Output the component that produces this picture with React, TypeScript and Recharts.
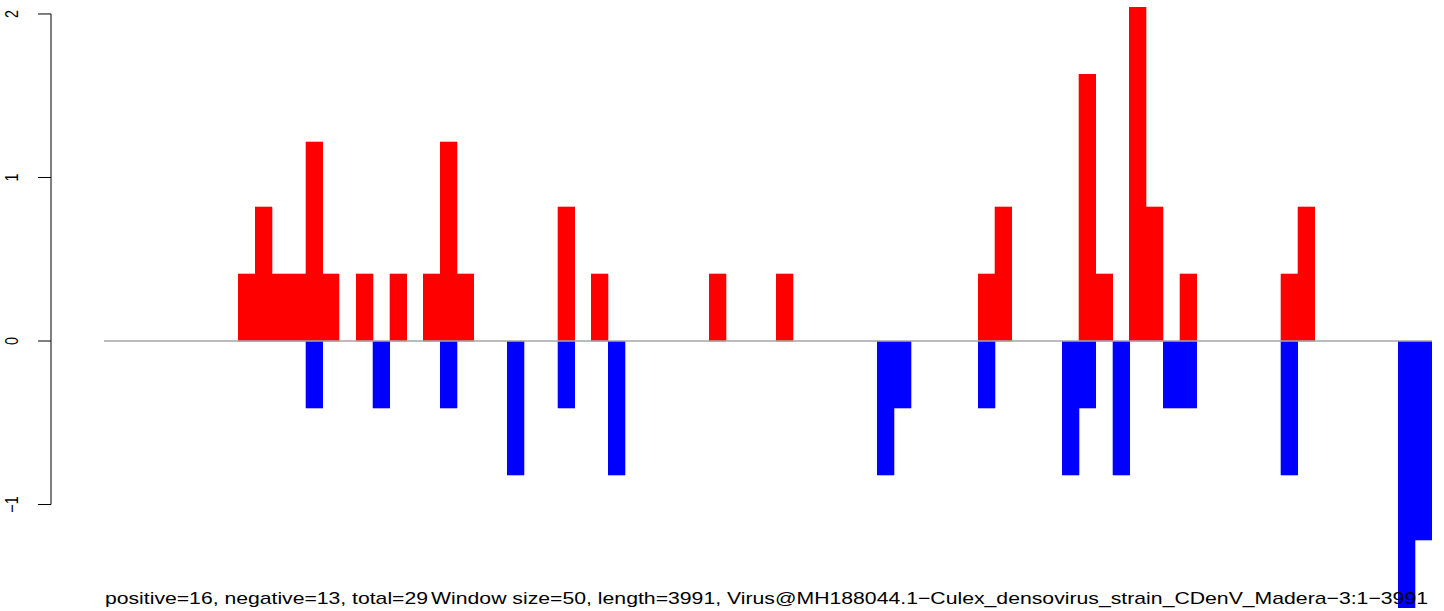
import { BarChart, Bar, XAxis, YAxis, ReferenceLine } from "recharts";

// window index (window size 50 over 3991 nt)
const windows = Array.from({ length: 79 }, (_, i) => i + 1);

const positive = [
  0, 0, 0, 0, 0, 0, 0, 0, 0.41, 0.82,
  0.41, 0.41, 1.22, 0.41, 0, 0.41, 0, 0.41, 0, 0.41,
  1.22, 0.41, 0, 0, 0, 0, 0, 0.82, 0, 0.41,
  0, 0, 0, 0, 0, 0, 0.41, 0, 0, 0,
  0.41, 0, 0, 0, 0, 0, 0, 0, 0, 0,
  0, 0, 0.41, 0.82, 0, 0, 0, 0, 1.63, 0.41,
  0, 2.04, 0.82, 0, 0.41, 0, 0, 0, 0, 0,
  0.41, 0.82, 0, 0, 0, 0, 0, 0, 0,
];

const negative = [
  0, 0, 0, 0, 0, 0, 0, 0, 0, 0,
  0, 0, -0.41, 0, 0, 0, -0.41, 0, 0, 0,
  -0.41, 0, 0, 0, -0.82, 0, 0, -0.41, 0, 0,
  -0.82, 0, 0, 0, 0, 0, 0, 0, 0, 0,
  0, 0, 0, 0, 0, 0, -0.82, -0.41, 0, 0,
  0, 0, -0.41, 0, 0, 0, 0, -0.82, -0.41, 0,
  -0.82, 0, 0, -0.41, -0.41, 0, 0, 0, 0, 0,
  -0.82, 0, 0, 0, 0, 0, 0, -1.63, -1.22,
];

const yTicks = [-1, 0, 1, 2];

const leftText = "positive=16, negative=13, total=29";
const rightText =
  "Window size=50, length=3991, Virus@MH188044.1\u2212Culex_densovirus_strain_CDenV_Madera\u22123:1\u22123991";

const data = windows.map((w, i) => ({
  mid: w - 0.5,
  pos: positive[i],
  neg: negative[i],
}));

const AXIS_X = -3.15; // left edge of the plot, where R puts the y axis
const FONT = "'Liberation Sans', Arial, Helvetica, sans-serif";

// eslint-disable-next-line @typescript-eslint/no-explicit-any
const renderTick = (props: any) => {
  const { x, y, payload } = props;
  const v = payload.value as number;
  const label = v < 0 ? `\u2212${Math.abs(v)}` : `${v}`;
  return (
    <text
      transform={`translate(${x - 18}, ${y}) rotate(-90) scale(0.8, 1)`}
      textAnchor="middle"
      fontSize={18}
      fontFamily={FONT}
      fill="#000"
    >
      {label}
    </text>
  );
};

export default function App() {
  return (
    <div style={{ position: "absolute", left: 0, top: 0, width: 1444, height: 611, background: "#fff" }}>
      <BarChart
        width={1444}
        height={611}
        data={data}
        stackOffset="sign"
        barCategoryGap={0}
        barGap={0}
        margin={{ top: 5.8, right: 12, bottom: 0.2, left: 0 }}
      >
        <XAxis type="number" dataKey="mid" domain={[AXIS_X, 79]} hide allowDataOverflow />
        <YAxis
          type="number"
          domain={[-1.65, 2.05]}
          ticks={yTicks}
          width={51}
          axisLine={false}
          tickSize={13}
          tickMargin={2}
          tickLine={{ stroke: "#000", strokeWidth: 1 }}
          tick={renderTick}
          allowDataOverflow
        />
        <ReferenceLine
          segment={[{ x: 0, y: 0 }, { x: 79, y: 0 }]}
          stroke="#a6a6a6"
          strokeWidth={1.5}
        />
        <ReferenceLine
          segment={[{ x: AXIS_X, y: -1 }, { x: AXIS_X, y: 2 }]}
          stroke="#000"
          strokeWidth={1}
          ifOverflow="visible"
        />
        <Bar
          dataKey="pos"
          stackId="s"
          fill="#ff0000"
          stroke="#ff0000"
          strokeWidth={0.3}
          shapeRendering="crispEdges"
          isAnimationActive={false}
        />
        <Bar
          dataKey="neg"
          stackId="s"
          fill="#0000ff"
          stroke="#0000ff"
          strokeWidth={0.3}
          shapeRendering="crispEdges"
          isAnimationActive={false}
        />
      </BarChart>
      <svg
        width={1444}
        height={611}
        style={{ position: "absolute", left: 0, top: 0, pointerEvents: "none" }}
      >
        <text x={105} y={604} fontSize={17} fontFamily={FONT} fill="#000" textLength={323} lengthAdjust="spacingAndGlyphs">
          {leftText}
        </text>
        <text x={431} y={604} fontSize={17} fontFamily={FONT} fill="#000" textLength={997} lengthAdjust="spacingAndGlyphs">
          {rightText}
        </text>
      </svg>
    </div>
  );
}
